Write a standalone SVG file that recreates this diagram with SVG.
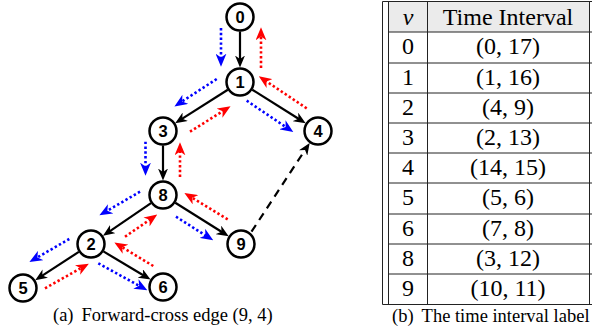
<svg xmlns="http://www.w3.org/2000/svg" width="592" height="335" viewBox="0 0 592 335">
<style>
.node circle{fill:#fff;stroke:#000;stroke-width:2.5}
.node text{font-family:"Liberation Sans",Arial,sans-serif;font-weight:bold;font-size:16.5px;text-anchor:middle}
.e{stroke:#000;stroke-width:2.2;fill:none;marker-end:url(#ak)}
.d{stroke:#000;stroke-width:2.2;fill:none;stroke-dasharray:8 6;marker-end:url(#ak)}
.b{stroke:#0000ff;stroke-width:2.6;fill:none;stroke-dasharray:2.4 2.4;marker-end:url(#ab)}
.r{stroke:#ff0000;stroke-width:2.6;fill:none;stroke-dasharray:2.4 2.4;marker-end:url(#ar)}
.t{font-family:"Liberation Serif","Times New Roman",serif;font-size:24px;text-anchor:middle;fill:#000}
.cap{font-family:"Liberation Serif","Times New Roman",serif;font-size:18.5px;fill:#000}
.tl{stroke:#222;stroke-width:1;fill:none}
</style>
<defs>
<marker id="ak" markerUnits="userSpaceOnUse" viewBox="0 0 12 10" markerWidth="12" markerHeight="10" refX="4" refY="5" orient="auto"><path d="M0,0 L12,5 L0,10 L3.5,5 z" fill="#000"/></marker>
<marker id="ab" markerUnits="userSpaceOnUse" viewBox="0 0 12 10" markerWidth="13" markerHeight="11" refX="4" refY="5" orient="auto"><path d="M0,0 L12,5 L0,10 L3.5,5 z" fill="#0000ff"/></marker>
<marker id="ar" markerUnits="userSpaceOnUse" viewBox="0 0 12 10" markerWidth="13" markerHeight="11" refX="4" refY="5" orient="auto"><path d="M0,0 L12,5 L0,10 L3.5,5 z" fill="#ff0000"/></marker>
</defs>
<g id="connectors">
<line class="e" x1="240" y1="31.5" x2="240" y2="59.5"/>
<line class="e" x1="227.8" y1="89.8" x2="181.9" y2="118.9"/>
<line class="e" x1="252.3" y1="89.7" x2="298.9" y2="119.0"/>
<line class="e" x1="163" y1="145.5" x2="163" y2="172.5"/>
<line class="e" x1="151.0" y1="203.2" x2="109.6" y2="231.3"/>
<line class="e" x1="175.3" y1="202.7" x2="221.9" y2="232.0"/>
<line class="e" x1="78.8" y1="251.9" x2="41.9" y2="275.8"/>
<line class="e" x1="103.4" y1="251.4" x2="143.7" y2="275.5"/>
<line class="d" x1="251.5" y1="231.7" x2="305.3" y2="149.6"/>
<line class="b" x1="221" y1="28" x2="221" y2="58"/>
<line class="r" x1="261" y1="68" x2="261" y2="36"/>
<line class="b" x1="216.7" y1="79" x2="181.7" y2="101.7"/>
<line class="r" x1="190" y1="131.7" x2="223.2" y2="110.9"/>
<line class="b" x1="246.7" y1="100.7" x2="286.1" y2="127.2"/>
<line class="r" x1="306.7" y1="108.3" x2="266.0" y2="81.1"/>
<line class="b" x1="145.5" y1="141.7" x2="145.5" y2="167"/>
<line class="r" x1="180" y1="177" x2="180" y2="151"/>
<line class="b" x1="140" y1="191.7" x2="106.9" y2="211.0"/>
<line class="r" x1="125" y1="236.7" x2="150.1" y2="219.5"/>
<line class="b" x1="176" y1="216.7" x2="205.9" y2="235.7"/>
<line class="r" x1="227.7" y1="219.3" x2="191.8" y2="197.5"/>
<line class="b" x1="69.3" y1="239" x2="36.9" y2="257.7"/>
<line class="r" x1="45" y1="288.3" x2="81.3" y2="267.9"/>
<line class="b" x1="98.3" y1="263.3" x2="139.7" y2="286.1"/>
<line class="r" x1="153.3" y1="266" x2="121.8" y2="246.9"/>
</g>
<g id="n0" class="node"><circle cx="240" cy="17" r="13.5"/><text x="240" y="23">0</text></g>
<g id="n1" class="node"><circle cx="240" cy="82" r="13.5"/><text x="240" y="88">1</text></g>
<g id="n3" class="node"><circle cx="163" cy="131" r="13.5"/><text x="163" y="137">3</text></g>
<g id="n4" class="node"><circle cx="318" cy="131" r="13.5"/><text x="318" y="137">4</text></g>
<g id="n8" class="node"><circle cx="163" cy="195" r="13.5"/><text x="163" y="201">8</text></g>
<g id="n9" class="node"><circle cx="241" cy="244" r="13.5"/><text x="241" y="250">9</text></g>
<g id="n2" class="node"><circle cx="91" cy="244" r="13.5"/><text x="91" y="250">2</text></g>
<g id="n5" class="node"><circle cx="23" cy="288" r="13.5"/><text x="23" y="294">5</text></g>
<g id="n6" class="node"><circle cx="163" cy="287" r="13.5"/><text x="163" y="293">6</text></g>
<text class="cap" x="53" y="321">(a)<tspan dx="8">Forward-cross edge (9, 4)</tspan></text>
<g id="table">
<rect x="388" y="1.5" width="201" height="30.5" fill="#ebebeb"/>
<path class="tl" d="M382.5,1.5 V304.5 M388.5,1.5 V304.5 M427.5,1.5 V304.5 M589.5,1.5 V304.5 M382.5,1.5 H592 M382.5,304.5 H592"/>
<path class="tl" d="M388.5,32 H592 M388.5,63 H592 M388.5,93 H592 M388.5,123 H592 M388.5,153 H592 M388.5,183 H592 M388.5,214 H592 M388.5,244 H592 M388.5,274 H592"/>
<text class="t" x="408" y="25" font-style="italic">v</text>
<text class="t" x="508" y="25">Time Interval</text>
<text class="t" x="408" y="54">0</text><text class="t" x="508" y="54">(0, 17)</text>
<text class="t" x="408" y="85">1</text><text class="t" x="508" y="85">(1, 16)</text>
<text class="t" x="408" y="115">2</text><text class="t" x="508" y="115">(4, 9)</text>
<text class="t" x="408" y="145">3</text><text class="t" x="508" y="145">(2, 13)</text>
<text class="t" x="408" y="175">4</text><text class="t" x="508" y="175">(14, 15)</text>
<text class="t" x="408" y="205">5</text><text class="t" x="508" y="205">(5, 6)</text>
<text class="t" x="408" y="236">6</text><text class="t" x="508" y="236">(7, 8)</text>
<text class="t" x="408" y="266">8</text><text class="t" x="508" y="266">(3, 12)</text>
<text class="t" x="408" y="296">9</text><text class="t" x="508" y="296">(10, 11)</text>
</g>
<text class="cap" x="392" y="322">(b)<tspan dx="8">The time interval label</tspan></text>
</svg>
